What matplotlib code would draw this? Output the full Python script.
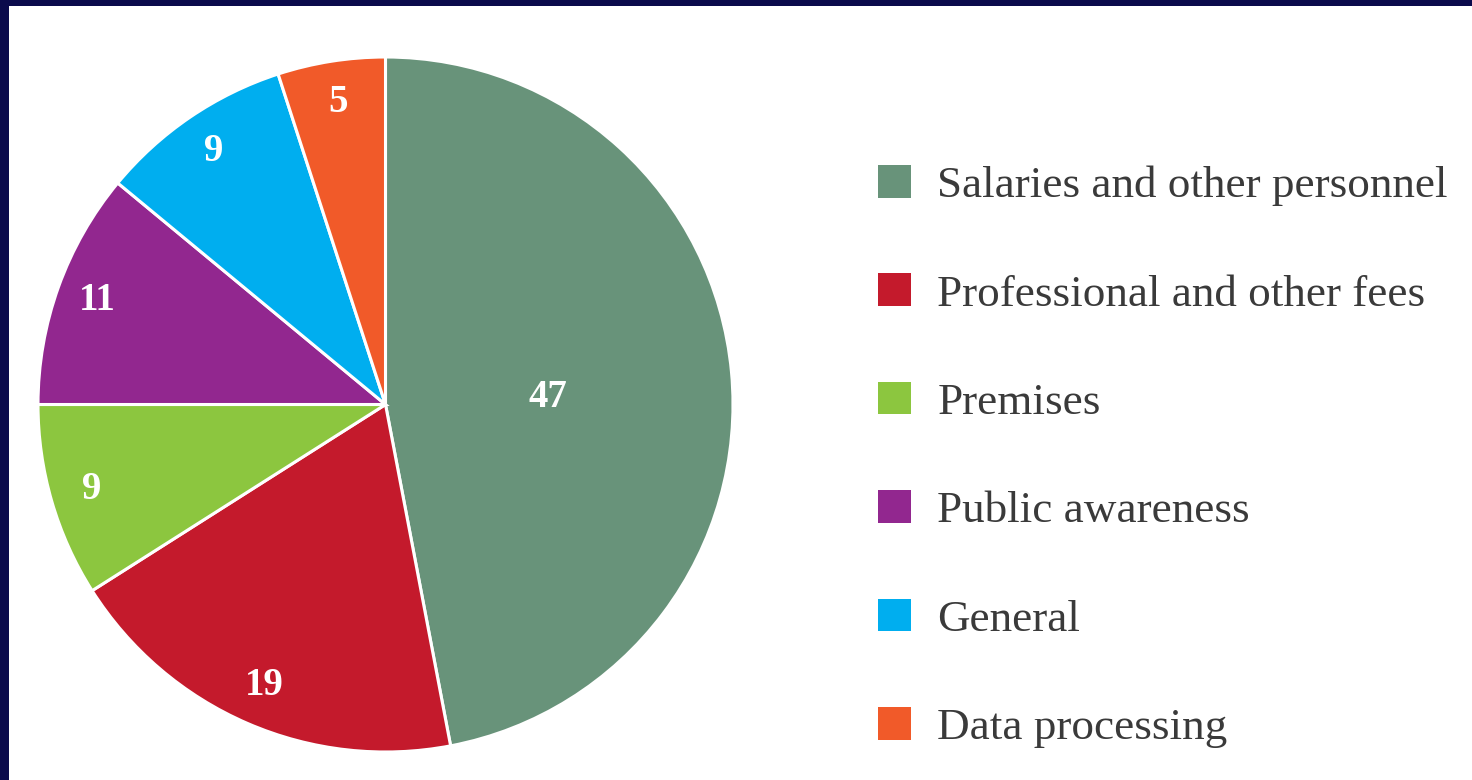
import matplotlib

matplotlib.use('Agg')
import matplotlib.pyplot as plt
from matplotlib.patches import Patch, Rectangle

categories = [
    'Salaries and other personnel',
    'Professional and other fees',
    'Premises',
    'Public awareness',
    'General',
    'Data processing',
]
shares = [47, 19, 9, 11, 9, 5]
colors = ['#68937a', '#c41a2c', '#8cc63f', '#92278f', '#00aeef', '#f15a29']

fig = plt.figure(figsize=(14.72, 7.8), dpi=100, facecolor='#0b0b4c')
# white slide area, navy strip left and top
fig.patches.append(Rectangle((9 / 1472, 0), 1, 1 - 6 / 780, transform=fig.transFigure,
                             facecolor='white', edgecolor='none', zorder=0))

ax = fig.add_axes([38 / 1472, 28 / 780, 695 / 1472, 695 / 780])
ax.set_zorder(2)
ax.set_facecolor('none')
wedges, _, autotexts = ax.pie(
    shares,
    colors=colors,
    startangle=90,
    counterclock=False,
    autopct=lambda p: f'{p:.0f}',
    pctdistance=0.88,
    wedgeprops={'edgecolor': 'white', 'linewidth': 2.2},
    textprops={'color': 'white', 'family': 'Liberation Serif',
               'fontweight': 'bold', 'fontsize': 28},
)
# the big slice carries its label closer to the centre
x, y = autotexts[0].get_position()
autotexts[0].set_position((x * 0.47 / 0.88, y * 0.2 / 0.88))
ax.set_xlim(-1, 1)
ax.set_ylim(-1, 1)

handles = [Patch(facecolor=c, edgecolor='none') for c in colors]
leg = fig.legend(
    handles, categories,
    loc='upper left', bbox_to_anchor=(860 / 1472, 1 - 147 / 780),
    frameon=False,
    handlelength=0.73, handleheight=0.73, handletextpad=0.58,
    labelspacing=1.494, borderaxespad=0,
    prop={'family': 'Liberation Serif', 'size': 32.5},
    labelcolor='#3a3a3a',
)
leg.set_zorder(3)

fig.savefig('out.png', dpi=100, facecolor=fig.get_facecolor())
